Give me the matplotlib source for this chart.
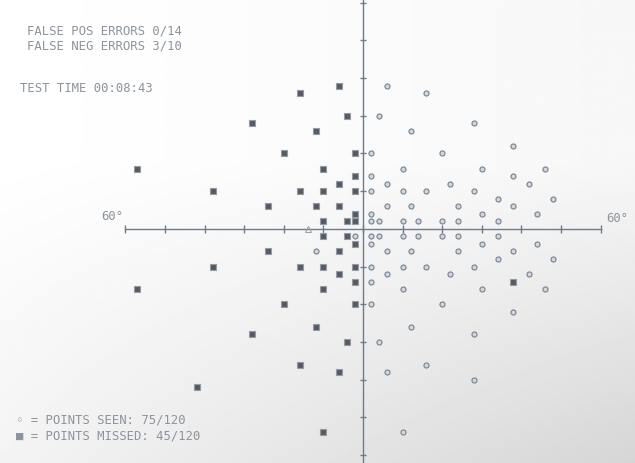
import numpy as np
import matplotlib.pyplot as plt

# ---- DATA (degrees of visual field) ----
seen_x = [6, 16, 4, 12, 28, 2, 20, 38, 10, 30, 46, 2, 38, 6, 22, 42,
          2, 10, 16, 28, 34, 48, 6, 12, 24, 38, 2, 30, 44,
          2, 4, 10, 14, 20, 24, 34,
          -2, 2, 4, 10, 14, 20, 24, 34,
          2, 30, 44, 6, 12, 24, 38, 34, 48, 2, 10, 16, 28,
          6, 22, 42, 2, 10, 30, 46, 2, 20, 38, 12, 28, 4, 16, 6, 28, 10,
          -12]
seen_y = [38, 36, 30, 26, 28, 20, 20, 22, 16, 16, 16, 14, 14, 12, 12, 12,
          10, 10, 10, 10, 8, 8, 6, 6, 6, 6, 4, 4, 4,
          2, 2, 2, 2, 2, 2, 2,
          -2, -2, -2, -2, -2, -2, -2, -2,
          -4, -4, -4, -6, -6, -6, -6, -8, -8, -10, -10, -10, -10,
          -12, -12, -12, -14, -16, -16, -16, -20, -20, -22, -26, -28, -30, -36, -38, -40, -54,
          -6]

missed_x = [-6, -16, -4, -28, -12, -2, -20, -57, -10, -2, -6, -38, -16, -10, -2,
            -24, -12, -6, -2, -10, -4, -2,
            -10, -4, -2, -24, -6, -38, -16, -10, -2, -6, -2, -57, -10,
            -20, -2, -12, -28, -4, -16, -6, -42, -10, 38]
missed_y = [38, 36, 30, 28, 26, 20, 20, 16, 16, 14, 12, 10, 10, 10, 10,
            6, 6, 6, 4, 2, 2, 2,
            -2, -2, -4, -6, -6, -10, -10, -10, -10, -12, -14, -16, -16,
            -20, -20, -26, -28, -30, -36, -38, -42, -54, -14]

blind_spot = (-14, 0)
axis_ticks = list(range(-60, 61, 10))

header_lines = ["FALSE POS ERRORS 0/14", "FALSE NEG ERRORS 3/10"]
test_time = "TEST TIME 00:08:43"
legend_lines = ["\u25e6 = POINTS SEEN: 75/120", "\u25a0 = POINTS MISSED: 45/120"]

# ---- STYLE ----
INK = "#6f7c88"
TXT = "#8d949d"
MONO = ["DejaVu Sans Mono", "DejaVu Sans"]
FS = 8.8

W, H = 635, 463
fig = plt.figure(figsize=(W / 100, H / 100), dpi=100)
ax = fig.add_axes([0, 0, 1, 1])
x0, x1 = -91.7, 68.7
y0, y1 = -62.1, 60.7
ax.set_xlim(x0, x1)
ax.set_ylim(y0, y1)
ax.axis("off")

# photocopy-like grey wash, darker toward the bottom right
gy, gx = np.mgrid[0:1:200j, 0:1:260j]
wash = 1 - 0.11 * np.clip((gy - 0.35) / 0.65, 0, 1) * (0.4 + 0.8 * gx) - 0.03 * gx
ax.imshow(wash, cmap="gray", vmin=0, vmax=1, extent=[x0, x1, y0, y1],
          origin="upper", aspect="auto", zorder=0)

# axes cross
ax.plot([-60, 60], [0, 0], color=INK, lw=1.0, zorder=1)
ax.plot([0, 0], [y0, y1], color=INK, lw=1.0, zorder=1)
ax.vlines(axis_ticks, -1.1, 1.1, color=INK, lw=1.0, zorder=1)
ax.hlines([t for t in axis_ticks if t != 0], -0.8, 0.8, color=INK, lw=1.0, zorder=1)

# points
ax.plot(seen_x, seen_y, "o", ms=3.6, mfc="#d3d8dd", mec="#808b96", mew=0.9,
        ls="none", zorder=3)
ax.plot(missed_x, missed_y, "s", ms=5.0, mfc="#565b61", mec="#959ba2", mew=0.8,
        ls="none", zorder=3)
ax.plot(*blind_spot, "^", ms=4, mfc="none", mec="#9aa2aa", mew=0.8, zorder=3)

# texts
ax.text(-60.5, 1.5, "60\u00b0", ha="right", va="bottom", fontsize=FS,
        color=TXT, family=MONO)
ax.text(61.5, 1.0, "60\u00b0", ha="left", va="bottom", fontsize=FS,
        color=TXT, family=MONO)

fig.text(27 / W, 1 - 31 / H, header_lines[0], ha="left", va="center",
         fontsize=FS, color=TXT, family=MONO)
fig.text(27 / W, 1 - 46 / H, header_lines[1], ha="left", va="center",
         fontsize=FS, color=TXT, family=MONO)
fig.text(20 / W, 1 - 89 / H, test_time, ha="left", va="center",
         fontsize=FS, color=TXT, family=MONO)
fig.text(16 / W, 1 - 420 / H, legend_lines[0], ha="left", va="center",
         fontsize=FS, color=TXT, family=MONO)
fig.text(16 / W, 1 - 436 / H, legend_lines[1], ha="left", va="center",
         fontsize=FS, color=TXT, family=MONO)

plt.savefig("out.png", dpi=100)
plt.close()
